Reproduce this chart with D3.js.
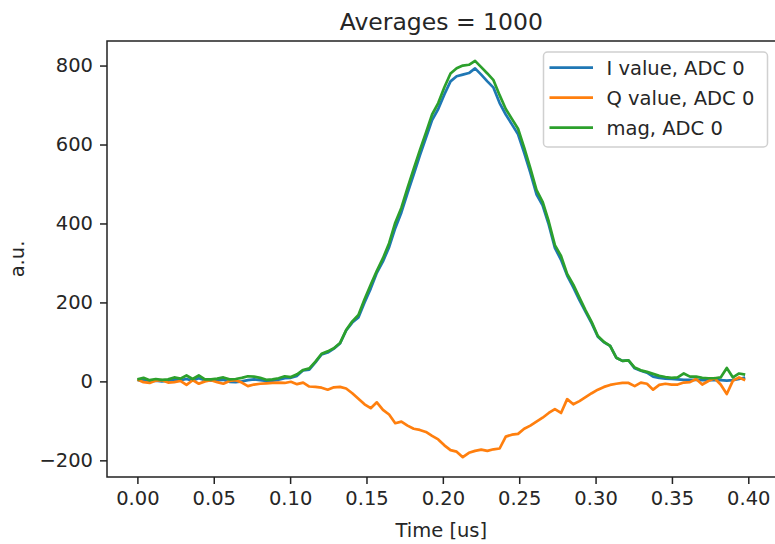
<!DOCTYPE html>
<html lang="en">
<head>
  <meta charset="UTF-8">
  <title>Averages = 1000</title>
  <script src="https://d3js.org/d3.v7.min.js"></script>
  <style>
    body {
      margin: 0;
      background: #fff;
    }
    svg {
      display: block;
      font-family: "DejaVu Sans", sans-serif;
    }
  </style>
</head>
<body>
  <svg id="chart" width="775" height="544"></svg>

<script>
// sample period of the decimated readout, in us
const SAMPLE_DT = 0.00402;

// readout traces, one value per sample (a.u.)
const iValues = [
  3, 4, 1, 2, 0, 2, 4, 3, 6, 2,
  8, 3, 2, 3, 4, -1, -2, 0, 3, 5,
  3, 1, 2, 4, 8, 9, 14, 28, 30, 48,
  68, 73, 83, 96, 129, 149, 162, 200, 235, 275,
  304, 340, 388, 428, 477, 524, 572, 617, 662, 690,
  727, 760, 773, 777, 781, 793, 777, 760, 744, 705,
  676, 651, 626, 579, 529, 474, 446, 397, 338, 308,
  268, 238, 206, 176, 147, 113, 99, 90, 60, 52,
  53, 33, 27, 22, 12, 9, 7, 6, 5, 4,
  4, 4, 3, 3, 3, 3, 2, 3, 6, 10
];

const qValues = [
  5, -2, -4, 2, 3, -3, -2, 1, -9, 3,
  -6, 0, 3, -2, -6, 1, 3, -3, -12, -8,
  -6, -5, -4, -3, -4, -1, -7, -3, -13, -14,
  -16, -21, -15, -14, -18, -30, -44, -58, -68, -53,
  -72, -84, -106, -102, -112, -120, -123, -128, -138, -147,
  -162, -174, -178, -192, -181, -176, -173, -176, -172, -170,
  -140, -135, -133, -120, -112, -102, -92, -80, -70, -80,
  -45, -58, -50, -40, -30, -21, -14, -9, -6, -4,
  -4, -12, -3, -6, -21, -9, -6, -8, -8, -3,
  -2, 6, -8, 1, 8, -8, -32, 2, 10, 3
];

const magValues = [
  5, 9, 3, 6, 4, 5, 10, 7, 15, 6,
  15, 5, 5, 7, 10, 5, 6, 9, 13, 12,
  9, 4, 5, 8, 13, 11, 18, 29, 33, 50,
  70, 76, 84, 97, 130, 152, 168, 208, 245, 280,
  312, 350, 402, 440, 490, 538, 585, 630, 676, 705,
  745, 780, 793, 800, 802, 812, 796, 780, 763, 725,
  690, 665, 640, 592, 540, 485, 455, 405, 345, 318,
  272, 245, 212, 180, 150, 115, 100, 90, 60, 52,
  53, 35, 28, 24, 19, 14, 11, 9, 10, 20,
  12, 12, 9, 8, 8, 10, 34, 10, 20, 17
];

const seriesNames = ["I value, ADC 0", "Q value, ADC 0", "mag, ADC 0"];
const seriesColors = ["#1f77b4", "#ff7f0e", "#2ca02c"];

const xTicks = [0, 0.05, 0.10, 0.15, 0.20, 0.25, 0.30, 0.35, 0.40];
const yTicks = [-200, 0, 200, 400, 600, 800];

const titleText = "Averages = 1000";
const xLabel = "Time [us]";
const yLabel = "a.u.";

// ---------------------------------------------------------------
const svg = d3.select("#chart");
const textColor = "#262626";

// axes box (the right spine falls just outside the picture)
const box = { left: 107, top: 41, right: 775.6, bottom: 477 };

const series = [iValues, qValues, magValues].map((vals, k) => ({
  name: seriesNames[k],
  color: seriesColors[k],
  points: vals.map((v, n) => ({ t: n * SAMPLE_DT, v }))
}));

// matplotlib-style 5% margins around the data
const allT = series[0].points.map(p => p.t);
const allV = series.flatMap(s => s.points.map(p => p.v));
const tExt = d3.extent(allT);
const vExt = d3.extent(allV);
const tPad = (tExt[1] - tExt[0]) * 0.05;
const vPad = (vExt[1] - vExt[0]) * 0.05;

const x = d3.scaleLinear()
  .domain([tExt[0] - tPad, tExt[1] + tPad])
  .range([box.left, box.right]);

const y = d3.scaleLinear()
  .domain([vExt[0] - vPad, vExt[1] + vPad])
  .range([box.bottom, box.top]);

// x axis
const xAxis = d3.axisBottom(x)
  .tickValues(xTicks)
  .tickFormat(d3.format(".2f"))
  .tickSizeInner(7)
  .tickSizeOuter(0)
  .tickPadding(7);

const gx = svg.append("g")
  .attr("transform", `translate(0,${box.bottom})`)
  .call(xAxis);

// y axis
const yAxis = d3.axisLeft(y)
  .tickValues(yTicks)
  .tickFormat(d => d < 0 ? "\u2212" + Math.abs(d) : String(d))
  .tickSizeInner(7)
  .tickSizeOuter(0)
  .tickPadding(7);

const gy = svg.append("g")
  .attr("transform", `translate(${box.left},0)`)
  .call(yAxis);

[gx, gy].forEach(g => {
  g.select(".domain").remove();
  g.selectAll(".tick line").attr("stroke", "#222").attr("stroke-width", 1.5);
  g.selectAll(".tick text")
    .attr("fill", textColor)
    .style("font-size", "19.5px")
    .style("font-family", "'DejaVu Sans', sans-serif");
});

// traces
const line = d3.line()
  .x(d => x(d.t))
  .y(d => y(d.v));

svg.append("g")
  .selectAll("path")
  .data(series)
  .enter()
  .append("path")
  .attr("d", d => line(d.points))
  .attr("fill", "none")
  .attr("stroke", d => d.color)
  .attr("stroke-width", 2.7)
  .attr("stroke-linejoin", "round");

// spines: left, top, bottom
svg.append("path")
  .attr("d", `M${box.right},${box.top}H${box.left}V${box.bottom}H${box.right}`)
  .attr("fill", "none")
  .attr("stroke", "#222")
  .attr("stroke-width", 1.5);

// title and axis labels
svg.append("text")
  .attr("x", (box.left + box.right) / 2)
  .attr("y", 29.5)
  .attr("text-anchor", "middle")
  .attr("fill", textColor)
  .style("font-size", "23.5px")
  .text(titleText);

svg.append("text")
  .attr("x", (box.left + box.right) / 2)
  .attr("y", 537)
  .attr("text-anchor", "middle")
  .attr("fill", textColor)
  .style("font-size", "19.5px")
  .text(xLabel);

svg.append("text")
  .attr("transform", `translate(24,${(box.top + box.bottom) / 2}) rotate(-90)`)
  .attr("text-anchor", "middle")
  .attr("fill", textColor)
  .style("font-size", "19.5px")
  .text(yLabel);

// legend
const legend = svg.append("g").attr("transform", "translate(543.5,52)");

legend.append("rect")
  .attr("width", 224)
  .attr("height", 95)
  .attr("rx", 4)
  .attr("fill", "#fff")
  .attr("fill-opacity", 0.8)
  .attr("stroke", "#d0d0d0")
  .attr("stroke-width", 1.5);

const rows = legend.selectAll(".row")
  .data(series)
  .enter()
  .append("g")
  .attr("class", "row")
  .attr("transform", (d, k) => `translate(0,${15.7 + k * 30})`);

rows.append("line")
  .attr("x1", 6)
  .attr("x2", 49.5)
  .attr("stroke", d => d.color)
  .attr("stroke-width", 2.7);

rows.append("text")
  .attr("x", 63)
  .attr("y", 7)
  .attr("fill", textColor)
  .style("font-size", "19.5px")
  .text(d => d.name);
</script>
</body>
</html>
